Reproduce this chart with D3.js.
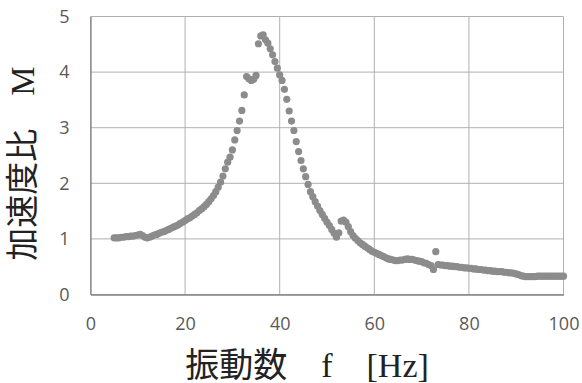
<!DOCTYPE html>
<html>
<head>
<meta charset="utf-8">
<script src="https://cdn.jsdelivr.net/npm/d3@7"></script>
<style>
  body { margin: 0; background: #fff; }
  svg { display: block; }
</style>
</head>
<body>
<svg id="chart" width="582" height="383"></svg>
<script>
// sweep from 5 Hz to 100 Hz, one reading every 0.5 Hz
var freqStart = 5, freqStep = 0.5;
var ratio = [
  1.02, 1.02, 1.02, 1.03, 1.03, 1.04, 1.04, 1.05, 1.05, 1.06,   // 5 - 9.5
  1.07, 1.08, 1.06, 1.03, 1.02, 1.03, 1.05, 1.07, 1.08, 1.10,   // 10 - 14.5
  1.12, 1.13, 1.15, 1.17, 1.19, 1.21, 1.23, 1.25, 1.28, 1.30,   // 15 - 19.5
  1.33, 1.36, 1.38, 1.41, 1.44, 1.47, 1.51, 1.54, 1.58, 1.62,   // 20 - 24.5
  1.67, 1.72, 1.78, 1.85, 1.93, 2.02, 2.13, 2.26, 2.38, 2.47,   // 25 - 29.5
  2.60, 2.78, 2.95, 3.12, 3.31, 3.59, 3.92, 3.88, 3.85, 3.87,   // 30 - 34.5
  3.94, 4.51, 4.65, 4.67, 4.58, 4.52, 4.42, 4.31, 4.19, 4.07,   // 35 - 39.5
  3.95, 3.85, 3.69, 3.51, 3.30, 3.12, 2.95, 2.75, 2.57, 2.41,   // 40 - 44.5
  2.26, 2.12, 1.98, 1.85, 1.76, 1.67, 1.59, 1.51, 1.44, 1.37,   // 45 - 49.5
  1.30, 1.24, 1.17, 1.10, 1.03, 1.11, 1.32, 1.34, 1.30, 1.22,   // 50 - 54.5
  1.13, 1.06, 1.01, 0.97, 0.93, 0.90, 0.87, 0.84, 0.81, 0.78,   // 55 - 59.5
  0.76, 0.74, 0.72, 0.70, 0.68, 0.66, 0.64, 0.63, 0.62, 0.61,   // 60 - 64.5
  0.61, 0.62, 0.62, 0.63, 0.64, 0.63, 0.63, 0.62, 0.61, 0.60,   // 65 - 69.5
  0.59, 0.57, 0.56, 0.54, 0.52, 0.45, 0.77, 0.54, 0.53, 0.53,   // 70 - 74.5
  0.52, 0.52, 0.51, 0.51, 0.50, 0.50, 0.49, 0.49, 0.48, 0.48,   // 75 - 79.5
  0.47, 0.47, 0.46, 0.46, 0.45, 0.45, 0.44, 0.44, 0.43, 0.43,   // 80 - 84.5
  0.42, 0.42, 0.41, 0.41, 0.41, 0.40, 0.40, 0.39, 0.39, 0.38,   // 85 - 89.5
  0.37, 0.36, 0.34, 0.33, 0.32, 0.32, 0.32, 0.32, 0.32, 0.33,   // 90 - 94.5
  0.33, 0.33, 0.33, 0.33, 0.33, 0.33, 0.33, 0.33, 0.33, 0.33,   // 95 - 99.5
  0.33                                                          // 100
];
var xTicks = [0, 20, 40, 60, 80, 100];
var yTicks = [0, 1, 2, 3, 4, 5];
var xTitle = "振動数　f　[Hz]";
var yTitle = "加速度比　M";

var data = ratio.map(function (m, i) {
  return { f: freqStart + i * freqStep, m: m };
});

var svg = d3.select("#chart");
// plot box (note: "top" is taken by window.top, so use other names)
var plotL = 90.5, plotR = 563.5, plotT = 16.5, plotB = 294.5;

var x = d3.scaleLinear().domain([0, 100]).range([plotL, plotR]);
var y = d3.scaleLinear().domain([0, 5]).range([plotB, plotT]);

// grid
svg.append("g")
  .selectAll("line")
  .data(xTicks)
  .enter()
  .append("line")
  .attr("x1", d => x(d)).attr("x2", d => x(d))
  .attr("y1", plotT).attr("y2", plotB)
  .attr("stroke", "#b0b0b0")
  .attr("stroke-width", 1);

svg.append("g")
  .selectAll("line")
  .data(yTicks)
  .enter()
  .append("line")
  .attr("x1", plotL).attr("x2", plotR)
  .attr("y1", d => y(d)).attr("y2", d => y(d))
  .attr("stroke", "#b0b0b0")
  .attr("stroke-width", 1);

// axes: only the line and the labels, no tick marks
var xAxis = svg.append("g")
  .attr("transform", "translate(0," + plotB + ")")
  .call(d3.axisBottom(x).tickValues(xTicks).tickFormat(d3.format("d"))
    .tickSize(0).tickPadding(23));
var yAxis = svg.append("g")
  .attr("transform", "translate(" + plotL + ",0)")
  .call(d3.axisLeft(y).tickValues(yTicks).tickFormat(d3.format("d"))
    .tickSize(0).tickPadding(21));

[xAxis, yAxis].forEach(function (a) {
  a.attr("font-size", null).attr("font-family", null);
  a.select(".domain").attr("stroke", "#858585").attr("stroke-width", 1.3);
  a.selectAll("text")
    .attr("fill", "#595959")
    .style("font-family", "'Open Sans', 'Noto Sans', sans-serif")
    .style("font-size", "18px");
});

// points
svg.append("g")
  .selectAll("circle")
  .data(data)
  .enter()
  .append("circle")
  .attr("cx", d => x(d.f))
  .attr("cy", d => y(d.m))
  .attr("r", 3.6)
  .attr("fill", "#8c8c8c");

// titles
var titleFont = "'Liberation Serif', 'Noto Sans CJK JP', serif";

svg.append("text")
  .attr("x", 307)
  .attr("y", 377)
  .attr("text-anchor", "middle")
  .style("font-family", titleFont)
  .style("font-size", "34px")
  .attr("fill", "#222")
  .text(xTitle);

svg.append("text")
  .attr("transform", "translate(34," + ((plotT + plotB) / 2 + 8) + ") rotate(-90)")
  .attr("text-anchor", "middle")
  .style("font-family", titleFont)
  .style("font-size", "33px")
  .attr("fill", "#222")
  .text(yTitle);
</script>
</body>
</html>
